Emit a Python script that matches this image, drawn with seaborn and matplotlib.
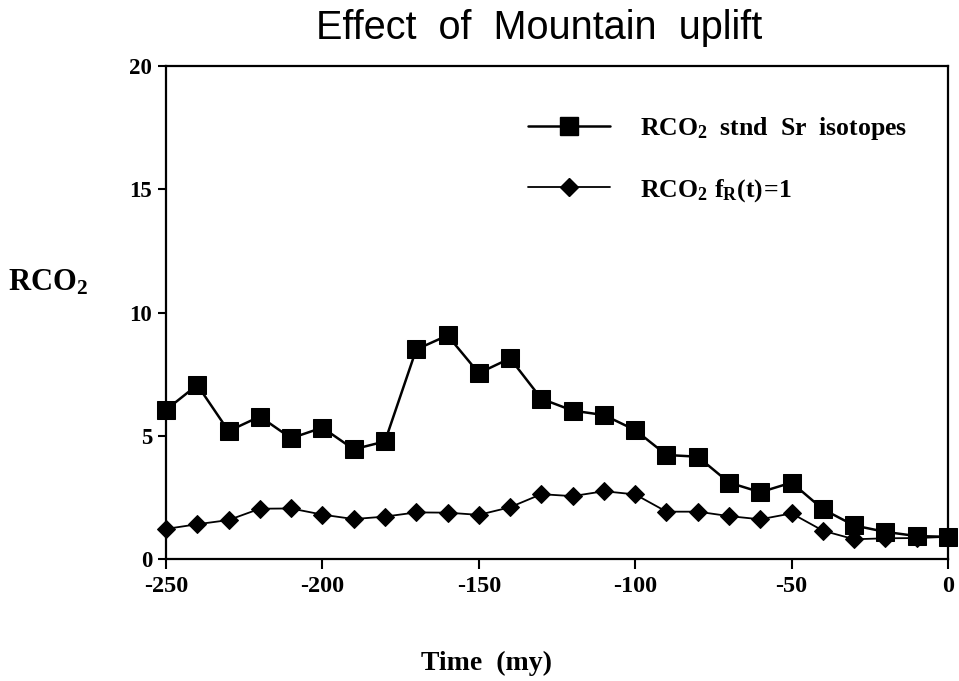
import matplotlib
matplotlib.use("Agg")
import matplotlib.pyplot as plt
import seaborn as sns
import pandas as pd
from matplotlib.lines import Line2D

# Data
time_my = [-250, -240, -230, -220, -210, -200, -190, -180, -170, -160, -150, -140, -130,
           -120, -110, -100, -90, -80, -70, -60, -50, -40, -30, -20, -10, 0]
rco2_sr = [6.05, 7.06, 5.19, 5.78, 4.90, 5.33, 4.45, 4.77, 8.50, 9.07, 7.54, 8.14, 6.50,
           6.02, 5.84, 5.23, 4.22, 4.15, 3.10, 2.71, 3.10, 2.02, 1.36, 1.10, 0.93, 0.90]
rco2_fr = [1.22, 1.41, 1.58, 2.04, 2.05, 1.80, 1.62, 1.72, 1.89, 1.88, 1.79, 2.10, 2.63,
           2.55, 2.75, 2.62, 1.92, 1.92, 1.74, 1.61, 1.85, 1.15, 0.80, 0.84, 0.85, 0.90]
x_ticks = [-250, -200, -150, -100, -50, 0]
y_ticks = [0, 5, 10, 15, 20]
label_sr = r"$\mathbf{RCO_2}$  stnd  Sr  isotopes"
label_fr = r"$\mathbf{RCO_2\ f_R(t)\!=\!1}$"

sns.set_theme(style="white")
plt.rcParams["font.family"] = ["Liberation Serif", "DejaVu Serif"]
plt.rcParams["mathtext.fontset"] = "custom"
plt.rcParams["mathtext.rm"] = "Liberation Serif"
plt.rcParams["mathtext.bf"] = "Liberation Serif:bold"
plt.rcParams["mathtext.it"] = "Liberation Serif:bold"
plt.rcParams["axes.unicode_minus"] = False
plt.rcParams["text.color"] = "black"
plt.rcParams["xtick.color"] = "black"
plt.rcParams["ytick.color"] = "black"

df = pd.DataFrame({"time": time_my, "sr": rco2_sr, "fr": rco2_fr})

fig = plt.figure(figsize=(9.59, 6.81), dpi=100)
ax = fig.add_axes([166/959, 1-559/681, (948-166)/959, (559-66)/681])

sns.lineplot(data=df, x="time", y="fr", ax=ax, color="black", lw=1.3,
             marker="D", markersize=9.5, markeredgecolor="black", markerfacecolor="black",
             clip_on=False, zorder=3)
sns.lineplot(data=df, x="time", y="sr", ax=ax, color="black", lw=1.8,
             marker="s", markersize=13.5, markeredgecolor="black", markerfacecolor="black",
             clip_on=False, zorder=4)

ax.set_xlim(-250, 0)
ax.set_ylim(0, 20)
ax.set_xticks(x_ticks)
ax.set_yticks(y_ticks)
ax.set_xticklabels([str(v) for v in x_ticks], fontsize=17.5, fontweight="bold",
                   family="Liberation Serif")
ax.set_yticklabels([str(v) for v in y_ticks], fontsize=16.5, fontweight="bold",
                   family="Liberation Serif")
ax.tick_params(axis="x", direction="out", length=7, width=1.5, color="black", pad=5,
               bottom=True)
ax.tick_params(axis="y", direction="out", length=6, width=1.5, color="black", pad=4,
               left=True)
ax.set_xlabel("")
ax.set_ylabel("")
for s in ax.spines.values():
    s.set_visible(True)
    s.set_color("black")
    s.set_linewidth(1.6)
ax.grid(False)

handles = [
    Line2D([], [], color="black", lw=1.8, marker="s", markersize=13.5),
    Line2D([], [], color="black", lw=1.3, marker="D", markersize=9.5),
]
ax.legend(handles, [label_sr, label_fr], loc="upper left",
          bbox_to_anchor=(528/959, 1-115/681), bbox_transform=fig.transFigure,
          frameon=False, borderpad=0, borderaxespad=0, handlelength=3.2,
          handletextpad=1.15, labelspacing=1.35,
          prop={"family": "Liberation Serif", "weight": "bold", "size": 18.5})

fig.text(539/959, 1-28/681, "Effect  of  Mountain  uplift", ha="center", va="center",
         fontsize=28.5, family="Liberation Sans", color="black")
fig.text(8/959, 1-283/681, r"$\mathbf{RCO_2}$", ha="left", va="center", fontsize=22,
         color="black")
fig.text(486/959, 1-663/681, "Time  (my)", ha="center", va="center", fontsize=20,
         fontweight="bold", color="black")

fig.savefig("out.png", dpi=100, facecolor="white")
